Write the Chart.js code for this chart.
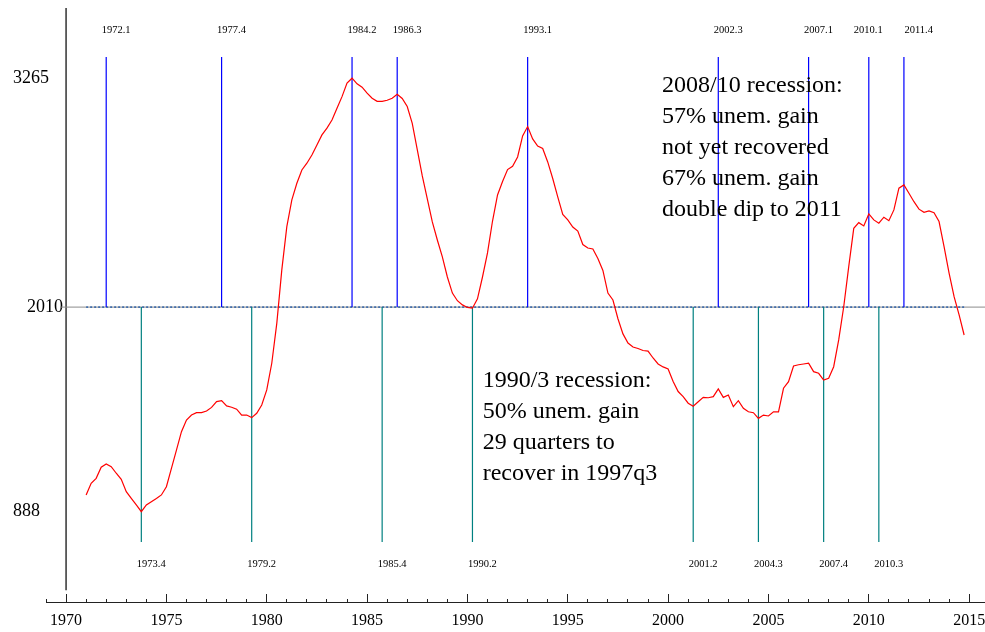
<!DOCTYPE html>
<html>
<head>
<meta charset="utf-8">
<script src="https://cdn.jsdelivr.net/npm/chart.js@4.4.1/dist/chart.umd.min.js"></script>
<style>
  html, body { margin: 0; padding: 0; background: #fff; }
  #wrap { width: 985px; height: 632px; position: relative; }
</style>
</head>
<body>
<div id="wrap"><canvas id="recChart"></canvas></div>
<script>
// quarterly series, first value is 1971q1
var startYear = 1971;
var unemployed = [
  980, 1044, 1071, 1132,   1150, 1135, 1099, 1066,   998, 961, 925, 888,
  925, 943, 961, 980,      1025, 1126, 1226, 1327,   1391, 1418, 1431, 1431,
  1440, 1460, 1492, 1497,  1468, 1461, 1450, 1418,   1418, 1404, 1428, 1473,
  1556, 1702, 1921, 2214,  2451, 2598, 2689, 2762,   2799, 2844, 2899, 2954,
  2991, 3036, 3100, 3164,  3238, 3265, 3234, 3216,   3183, 3155, 3138, 3138,
  3144, 3155, 3177, 3154,  3110, 3017, 2873, 2729,   2603, 2477, 2378, 2285,
  2175, 2087, 2045, 2022,  2008, 2004, 2055, 2175,   2307, 2482, 2625, 2699,
  2764, 2782, 2833, 2949,  3000, 2932, 2893, 2880,   2806, 2715, 2614, 2518,
  2488, 2449, 2427, 2353,  2334, 2329, 2277, 2211,   2087, 2049, 1946, 1863,
  1813, 1791, 1783, 1772,  1769, 1731, 1698, 1682,   1671, 1602, 1547, 1519,
  1483, 1466, 1491, 1515,  1513, 1519, 1561, 1515,   1528, 1464, 1497, 1455,
  1436, 1431, 1400, 1418,  1413, 1436, 1436, 1565,   1601, 1687, 1694, 1698,
  1702, 1656, 1647, 1610,  1620, 1683, 1830, 2012,   2232, 2442, 2473, 2455,
  2521, 2488, 2470, 2503,  2484, 2543, 2662, 2680,   2634, 2588, 2547, 2530,
  2537, 2528, 2479, 2341,  2196, 2067, 1967, 1857
];
var peaks = ["1972.1", "1977.4", "1984.2", "1986.3", "1993.1", "2002.3", "2007.1", "2010.1", "2011.4"];
var troughs = ["1973.4", "1979.2", "1985.4", "1990.2", "2001.2", "2004.3", "2007.4", "2010.3"];
var refLevel = 2010;
var levelTicks = [888, 3265];
var note2008 = ["2008/10 recession:", "57% unem. gain", "not yet recovered", "67% unem. gain", "double dip to 2011"];
var note1990 = ["1990/3 recession:", "50% unem. gain", "29 quarters to", "recover in 1997q3"];

var serif = "'Liberation Serif', 'Times New Roman', serif";
var xMin = 1969, xMax = 2015.79;
var yMin = 393, yMax = 3650;
var peakTop = 3381, troughBottom = 722;

function qYear(s) {
  var p = s.split(".");
  return parseInt(p[0], 10) + (parseInt(p[1], 10) - 1) / 4;
}

var curve = unemployed.map(function (v, i) { return { x: startYear + i / 4, y: v }; });

var datasets = [{
  data: curve, borderColor: "#ff0000", borderWidth: 1.2, pointRadius: 0, tension: 0
}];
peaks.forEach(function (p) {
  datasets.push({ data: [{ x: qYear(p), y: peakTop }, { x: qYear(p), y: refLevel }],
    borderColor: "#0000ff", borderWidth: 1.2, pointRadius: 0 });
});
troughs.forEach(function (p) {
  datasets.push({ data: [{ x: qYear(p), y: refLevel }, { x: qYear(p), y: troughBottom }],
    borderColor: "#008080", borderWidth: 1.2, pointRadius: 0 });
});
// reference level: dotted over the data span, grey across the plot
datasets.push({ data: [{ x: startYear, y: refLevel }, { x: curve[curve.length - 1].x, y: refLevel }],
  borderColor: "#2f62a8", borderWidth: 1.5, borderDash: [2, 2], pointRadius: 0 });
datasets.push({ data: [{ x: 1969.7, y: refLevel }, { x: xMax, y: refLevel }],
  borderColor: "#8c8c8c", borderWidth: 1, pointRadius: 0 });
// y axis line
datasets.push({ data: [{ x: 1970, y: yMax }, { x: 1970, y: 458 }],
  borderColor: "#333", borderWidth: 1.5, pointRadius: 0 });

var labelNudge = { "2010.1": -10.5, "2011.4": 5 };

var notesPlugin = {
  id: "notes",
  afterDatasetsDraw: function (chart) {
    var ctx = chart.ctx, x = chart.scales.x, y = chart.scales.y;
    ctx.save();
    ctx.fillStyle = "#000";
    ctx.textBaseline = "alphabetic";
    ctx.textAlign = "left";
    ctx.font = "10.5px " + serif;
    peaks.forEach(function (p) {
      ctx.fillText(p, x.getPixelForValue(qYear(p)) - 4.5 + (labelNudge[p] || 0), y.getPixelForValue(3513));
    });
    troughs.forEach(function (p) {
      ctx.fillText(p, x.getPixelForValue(qYear(p)) - 4.5 + (labelNudge[p] || 0), y.getPixelForValue(585));
    });
    ctx.font = "24px " + serif;
    note2008.forEach(function (t, i) {
      ctx.fillText(t, x.getPixelForValue(1999.70), y.getPixelForValue(3188) + i * 31);
    });
    note1990.forEach(function (t, i) {
      ctx.fillText(t, x.getPixelForValue(1990.76), y.getPixelForValue(1570) + i * 31);
    });
    ctx.restore();
  }
};

function noPadX(s, h) { s.height = h; s.paddingLeft = 0; s.paddingRight = 0; }
function noPadY(s, w) { s.width = w; s.paddingTop = 0; s.paddingBottom = 0; }

new Chart(document.getElementById("recChart").getContext("2d"), {
  type: "line",
  data: { datasets: datasets },
  plugins: [notesPlugin],
  options: {
    responsive: true,
    maintainAspectRatio: false,
    animation: false,
    layout: { padding: { left: 13, top: 8, right: 0, bottom: 0 } },
    plugins: { legend: { display: false }, tooltip: { enabled: false } },
    scales: {
      x: {
        type: "linear", position: "bottom", weight: 1, min: xMin, max: xMax,
        afterBuildTicks: function (s) {
          var t = [];
          for (var yr = 1969; yr <= 2015; yr++) t.push({ value: yr });
          s.ticks = t;
        },
        afterFit: function (s) { noPadX(s, 30); },
        ticks: {
          autoSkip: false, maxRotation: 0, padding: 12, color: "#000",
          font: { family: serif, size: 16 },
          callback: function (v) { return v % 5 === 0 ? String(v) : ""; }
        },
        grid: { drawOnChartArea: false, drawTicks: true, tickLength: -3, tickColor: "#222", tickWidth: 1 },
        border: { display: true, color: "#222", width: 1 }
      },
      x2: {
        type: "linear", position: "bottom", weight: 0, min: xMin, max: xMax,
        afterBuildTicks: function (s) {
          var t = [];
          for (var yr = 1970; yr <= 2015; yr += 5) t.push({ value: yr });
          s.ticks = t;
        },
        afterFit: function (s) { noPadX(s, 0); },
        ticks: { display: false, autoSkip: false },
        grid: { drawOnChartArea: false, drawTicks: true, tickLength: -8, tickColor: "#222", tickWidth: 1 },
        border: { display: false }
      },
      y: {
        type: "linear", position: "left", weight: 1, min: yMin, max: yMax,
        afterBuildTicks: function (s) { s.ticks = levelTicks.map(function (v) { return { value: v }; }); },
        afterFit: function (s) { noPadY(s, 33); },
        ticks: { mirror: true, crossAlign: "near", padding: -33, color: "#000", font: { family: serif, size: 18 },
          callback: function (v) { return String(v); } },
        grid: { display: false, drawTicks: false },
        border: { display: false }
      },
      y2: {
        type: "linear", position: "left", weight: 0, min: yMin, max: yMax,
        afterBuildTicks: function (s) { s.ticks = [{ value: refLevel }]; },
        afterFit: function (s) { noPadY(s, 0); },
        ticks: { mirror: true, crossAlign: "near", padding: -19, color: "#000", font: { family: serif, size: 18 },
          callback: function (v) { return String(v); } },
        grid: { display: false, drawTicks: false },
        border: { display: false }
      }
    }
  }
});
</script>
</body>
</html>
